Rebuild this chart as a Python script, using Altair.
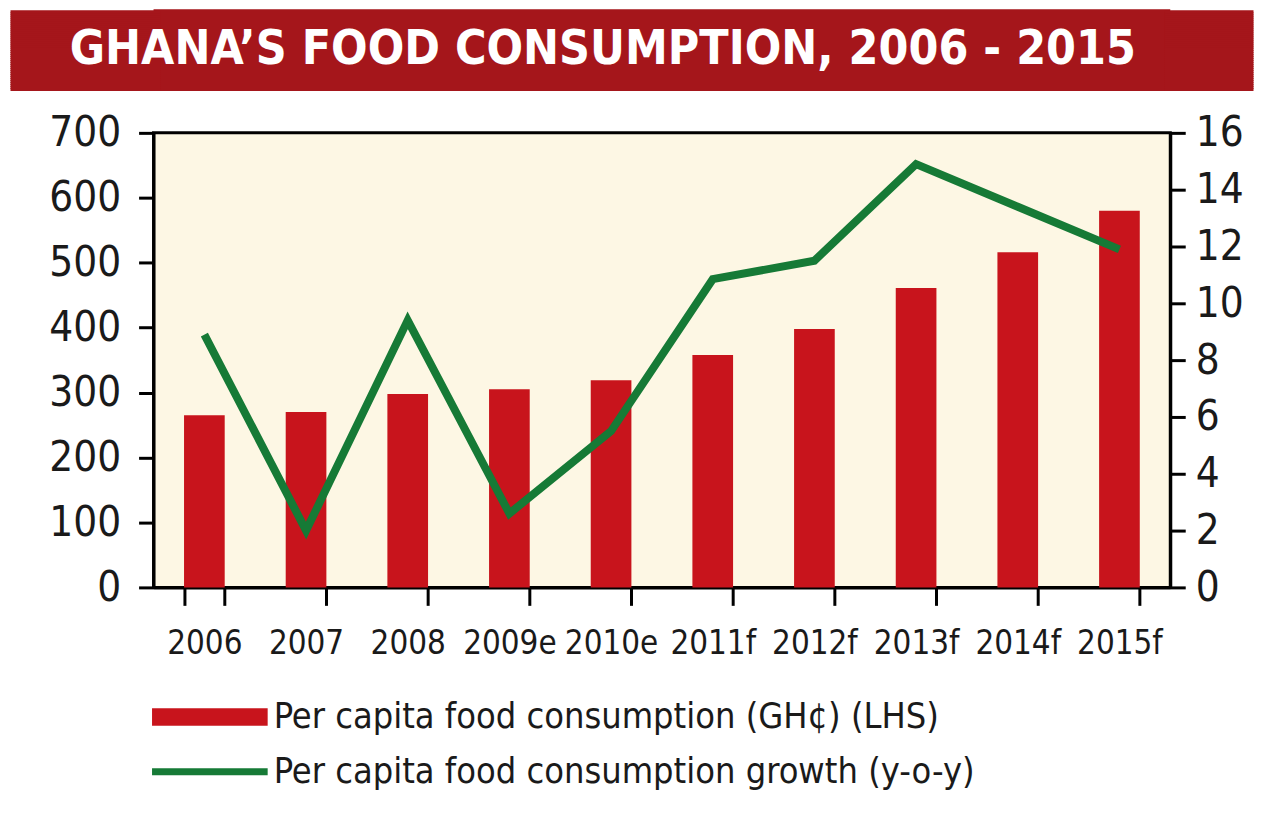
import altair as alt
import pandas as pd

years = ["2006", "2007", "2008", "2009e", "2010e", "2011f", "2012f", "2013f", "2014f", "2015f"]
consumption = [265, 270, 298, 305, 319, 358, 398, 461, 516, 580]
growth = [8.9, 2.0, 9.4, 2.6, 5.5, 10.85, 11.5, 14.9, 13.4, 11.9]
left_ticks = [0, 100, 200, 300, 400, 500, 600, 700]
right_ticks = [0, 2, 4, 6, 8, 10, 12, 14, 16]

title_text = "GHANA\u2019S FOOD CONSUMPTION, 2006 - 2015"
bar_label = "Per capita food consumption (GH\u00a2) (LHS)"
line_label = "Per capita food consumption growth (y-o-y)"

RED = "#C8141C"
GREEN = "#167A36"
BANNER = "#A5161B"
CREAM = "#FDF7E4"
INK = "#1a1a1a"
FONT = "DejaVu Sans Condensed, Liberation Sans Narrow, Roboto, sans-serif"

df = pd.DataFrame({
    "year": years,
    "consumption": consumption,
    "growth": growth,
    "bar_series": [bar_label] * len(years),
    "line_series": [line_label] * len(years),
})

xenc = alt.X(
    "year:N", sort=years, title=None,
    scale=alt.Scale(paddingInner=0.6, paddingOuter=0.3),
    axis=alt.Axis(labelAngle=0, labelFont=FONT, labelFontSize=33, labelColor=INK,
                  labelPadding=22, tickBand="extent", tickSize=18, tickWidth=3,
                  tickColor="black", domainColor="black", domainWidth=3, grid=False),
)

bars = alt.Chart(df).mark_bar(color=RED).encode(
    x=xenc,
    y=alt.Y("consumption:Q", title=None,
            scale=alt.Scale(domain=[0, 700], nice=False),
            axis=alt.Axis(values=left_ticks, orient="left", labelFont=FONT, labelFontSize=42,
                          labelColor=INK, labelPadding=18, tickSize=15, tickWidth=3,
                          tickColor="black", domainColor="black", domainWidth=3,
                          grid=False, minExtent=144)),
    fill=alt.Fill("bar_series:N",
                  scale=alt.Scale(domain=[bar_label], range=[RED]),
                  legend=alt.Legend(title=None, orient="none", legendX=38.5, legendY=692,
                                    symbolType="M-4,-0.6H4V0.6H-4Z", symbolSize=841,
                                    symbolStrokeWidth=0, labelFont=FONT, labelFontSize=36,
                                    labelColor=INK, labelLimit=1000, labelOffset=46, padding=0)),
)

line = alt.Chart(df).mark_line(strokeWidth=8).encode(
    x=alt.X("year:N", sort=years),
    y=alt.Y("growth:Q", title=None,
            scale=alt.Scale(domain=[0, 16], nice=False),
            axis=alt.Axis(values=right_ticks, orient="right", labelFont=FONT, labelFontSize=42,
                          labelColor=INK, labelPadding=10, tickSize=15, tickWidth=3,
                          tickColor="black", domainColor="black", domainWidth=3, grid=False)),
    stroke=alt.Stroke("line_series:N",
                      scale=alt.Scale(domain=[line_label], range=[GREEN]),
                      legend=alt.Legend(title=None, orient="none", legendX=38.5, legendY=747,
                                        symbolType="M-4,0H4", symbolSize=841,
                                        symbolStrokeWidth=7, labelFont=FONT, labelFontSize=36,
                                        labelColor=INK, labelLimit=1000, labelOffset=46, padding=0)),
)

main = alt.layer(bars, line).resolve_scale(y="independent").properties(
    width=1020, height=456,
    view=alt.ViewBackground(fill=CREAM, stroke="black", strokeWidth=3),
)

# Banner: red view fill, extended to both sides by dense axis ticks (thin, so bounds stay tight)
band_ticks = list(range(1, 41))
band_scale = alt.Scale(domain=[0, 41], nice=False)
banner_left = alt.Chart(pd.DataFrame({"t": [title_text]})).mark_text(
    align="left", baseline="middle", font=FONT, fontSize=48, fontWeight="bold", color="white"
).encode(
    text="t:N", x=alt.value(-84),
    y=alt.YDatum(20.5, type="quantitative", scale=band_scale,
                 axis=alt.Axis(orient="left", labels=False, domain=False, values=band_ticks,
                               tickSize=150, tickWidth=3, tickColor=BANNER, title=None,
                               grid=False, offset=-6)),
)
banner_right = alt.Chart(pd.DataFrame({"t": [title_text]})).mark_text(opacity=0).encode(
    text="t:N", x=alt.value(0),
    y=alt.YDatum(20.5, type="quantitative", scale=band_scale,
                 axis=alt.Axis(orient="right", labels=False, domain=False, values=band_ticks,
                               tickSize=89, tickWidth=3, tickColor=BANNER, title=None,
                               grid=False, offset=-6)),
)
banner = alt.layer(banner_left, banner_right).resolve_scale(y="independent").properties(
    width=1020, height=82,
    view=alt.ViewBackground(fill=BANNER, strokeWidth=0),
)

chart = alt.vconcat(banner, main, spacing=19).properties(
    padding=0, background="white"
)

chart.save("out.html", embed_options={"renderer": "svg", "actions": False})
